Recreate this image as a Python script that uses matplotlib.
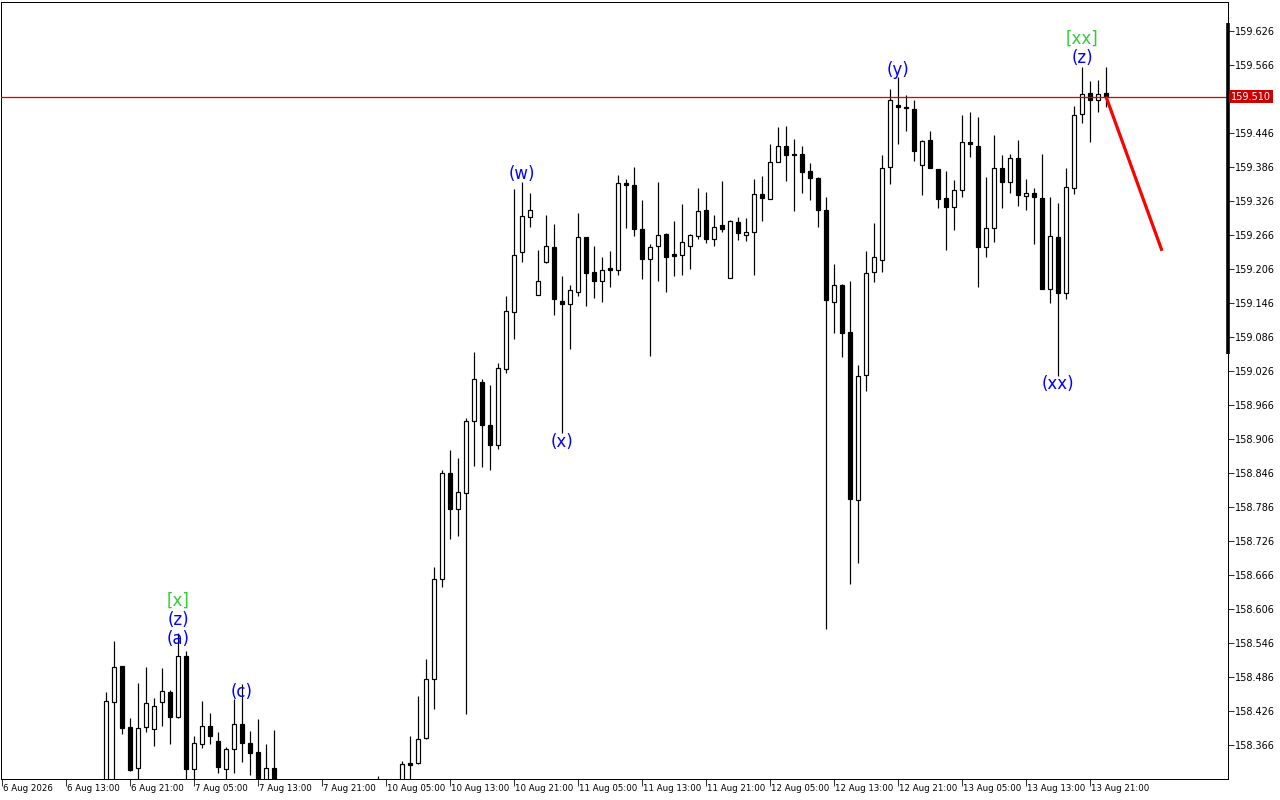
import matplotlib
matplotlib.use("Agg")
import matplotlib.pyplot as plt
import matplotlib.transforms as mtransforms
from matplotlib.patches import Rectangle

# ---------------- data (H1 bars, index 0 = 6 Aug 2026 05:00) ----------------
opens = [158.215, 158.230, 158.215, 158.195, 158.210, 158.240, 158.255, 158.230, 158.250, 158.270,
         158.255, 158.275, 158.265, 158.280, 158.442, 158.505, 158.398, 158.325, 158.398, 158.394,
         158.442, 158.460, 158.415, 158.523, 158.324, 158.368, 158.400, 158.373, 158.324, 158.359,
         158.403, 158.370, 158.354, 158.290, 158.325, 158.285, 158.265, 158.245, 158.260, 158.250,
         158.230, 158.255, 158.270, 158.260, 158.240, 158.255, 158.275, 158.265, 158.280, 158.270,
         158.290, 158.334, 158.334, 158.379, 158.482, 158.659, 158.846, 158.782, 158.811, 158.938,
         159.007, 158.931, 158.895, 159.030, 159.130, 159.235, 159.298, 159.160, 159.218, 159.245,
         159.149, 159.144, 159.166, 159.262, 159.201, 159.185, 159.208, 159.204, 159.358, 159.354,
         159.276, 159.224, 159.247, 159.268, 159.233, 159.231, 159.247, 159.264, 159.310, 159.259,
         159.284, 159.190, 159.289, 159.266, 159.271, 159.338, 159.330, 159.395, 159.423, 159.409,
         159.409, 159.379, 159.367, 159.310, 159.148, 159.178, 159.095, 158.798, 159.019, 159.201,
         159.222, 159.386, 159.495, 159.492, 159.488, 159.390, 159.434, 159.382, 159.331, 159.316,
         159.345, 159.430, 159.423, 159.245, 159.278, 159.384, 159.360, 159.402, 159.335, 159.340,
         159.331, 159.171, 159.262, 159.164, 159.349, 159.480, 159.517, 159.504, 159.517]
highs = [158.245, 158.260, 158.240, 158.225, 158.250, 158.275, 158.270, 158.265, 158.290, 158.295,
         158.285, 158.298, 158.295, 158.460, 158.550, 158.506, 158.414, 158.475, 158.504, 158.449,
         158.502, 158.463, 158.564, 158.532, 158.382, 158.444, 158.423, 158.389, 158.363, 158.447,
         158.474, 158.391, 158.412, 158.368, 158.392, 158.300, 158.290, 158.280, 158.295, 158.270,
         158.265, 158.285, 158.295, 158.280, 158.270, 158.290, 158.298, 158.311, 158.300, 158.298,
         158.338, 158.382, 158.453, 158.518, 158.680, 158.851, 158.887, 158.873, 158.943, 159.060,
         159.012, 159.001, 159.040, 159.158, 159.347, 159.359, 159.340, 159.240, 159.301, 159.285,
         159.194, 159.178, 159.305, 159.263, 159.247, 159.227, 159.238, 159.372, 159.365, 159.386,
         159.328, 159.250, 159.360, 159.269, 159.291, 159.321, 159.267, 159.349, 159.342, 159.301,
         159.361, 159.292, 159.298, 159.296, 159.365, 159.370, 159.427, 159.456, 159.458, 159.435,
         159.423, 159.393, 159.368, 159.333, 159.215, 159.179, 159.185, 159.036, 159.238, 159.287,
         159.407, 159.524, 159.545, 159.513, 159.504, 159.434, 159.450, 159.383, 159.379, 159.363,
         159.478, 159.483, 159.474, 159.368, 159.442, 159.407, 159.409, 159.434, 159.365, 159.349,
         159.409, 159.333, 159.323, 159.384, 159.494, 159.563, 159.538, 159.540, 159.563]
lows = [158.190, 158.205, 158.180, 158.170, 158.200, 158.225, 158.220, 158.215, 158.240, 158.245,
        158.235, 158.255, 158.250, 158.260, 158.295, 158.385, 158.320, 158.300, 158.389, 158.364,
        158.400, 158.368, 158.414, 158.300, 158.300, 158.361, 158.368, 158.317, 158.300, 158.317,
        158.336, 158.313, 158.270, 158.280, 158.270, 158.250, 158.235, 158.225, 158.240, 158.215,
        158.210, 158.240, 158.250, 158.230, 158.220, 158.245, 158.255, 158.250, 158.260, 158.255,
        158.280, 158.290, 158.333, 158.377, 158.430, 158.645, 158.730, 158.735, 158.421, 158.858,
        158.857, 158.851, 158.888, 159.022, 159.082, 159.218, 159.280, 159.160, 159.217, 159.125,
        158.917, 159.065, 159.158, 159.140, 159.155, 159.148, 159.174, 159.195, 159.278, 159.264,
        159.188, 159.052, 159.185, 159.166, 159.194, 159.195, 159.206, 159.259, 159.252, 159.247,
        159.271, 159.190, 159.257, 159.255, 159.195, 159.291, 159.330, 159.395, 159.361, 159.308,
        159.340, 159.328, 159.280, 158.571, 159.093, 159.051, 158.650, 158.687, 158.991, 159.183,
        159.201, 159.356, 159.427, 159.450, 159.397, 159.337, 159.384, 159.314, 159.240, 159.275,
        159.333, 159.404, 159.174, 159.227, 159.254, 159.314, 159.340, 159.317, 159.310, 159.250,
        159.171, 159.146, 159.017, 159.153, 159.338, 159.464, 159.430, 159.483, 159.492]
closes = [158.230, 158.215, 158.195, 158.210, 158.240, 158.255, 158.230, 158.250, 158.270, 158.255,
          158.275, 158.265, 158.280, 158.444, 158.504, 158.396, 158.322, 158.396, 158.440, 158.435,
          158.461, 158.415, 158.523, 158.324, 158.370, 158.400, 158.382, 158.327, 158.359, 158.403,
          158.370, 158.352, 158.290, 158.325, 158.285, 158.265, 158.245, 158.260, 158.250, 158.230,
          158.255, 158.270, 158.260, 158.240, 158.255, 158.275, 158.265, 158.280, 158.270, 158.290,
          158.332, 158.331, 158.377, 158.483, 158.659, 158.846, 158.782, 158.812, 158.938, 159.012,
          158.931, 158.895, 159.031, 159.132, 159.231, 159.300, 159.310, 159.185, 159.247, 159.153,
          159.144, 159.169, 159.262, 159.199, 159.185, 159.204, 159.204, 159.358, 159.354, 159.276,
          159.224, 159.245, 159.266, 159.227, 159.229, 159.254, 159.266, 159.309, 159.259, 159.280,
          159.276, 159.291, 159.270, 159.271, 159.338, 159.331, 159.395, 159.423, 159.407, 159.407,
          159.377, 159.367, 159.310, 159.151, 159.178, 159.093, 158.800, 159.017, 159.199, 159.227,
          159.384, 159.504, 159.492, 159.490, 159.414, 159.432, 159.384, 159.330, 159.316, 159.345,
          159.430, 159.427, 159.245, 159.278, 159.384, 159.360, 159.402, 159.337, 159.340, 159.333,
          159.171, 159.264, 159.164, 159.351, 159.478, 159.515, 159.504, 159.515, 159.510]

time_labels = ["6 Aug 2026", "6 Aug 13:00", "6 Aug 21:00", "7 Aug 05:00", "7 Aug 13:00",
               "7 Aug 21:00", "10 Aug 05:00", "10 Aug 13:00", "10 Aug 21:00", "11 Aug 05:00",
               "11 Aug 13:00", "11 Aug 21:00", "12 Aug 05:00", "12 Aug 13:00", "12 Aug 21:00",
               "13 Aug 05:00", "13 Aug 13:00", "13 Aug 21:00"]
time_label_bars = [0, 8, 16, 24, 32, 40, 48, 56, 64, 72, 80, 88, 96, 104, 112, 120, 128, 136]

price_ticks = [159.626, 159.566, 159.446, 159.386, 159.326, 159.266, 159.206, 159.146, 159.086,
               159.026, 158.966, 158.906, 158.846, 158.786, 158.726, 158.666, 158.606, 158.546,
               158.486, 158.426, 158.366]
current_price = 159.510

# wave labels: (text, bar, price, colour)
wave_labels = [("[x]", 22, 158.620, "green"), ("(z)", 22, 158.586, "blue"), ("(a)", 22, 158.553, "blue"),
               ("(c)", 30, 158.460, "blue"), ("(w)", 65, 159.374, "blue"), ("(x)", 70, 158.901, "blue"),
               ("(y)", 112, 159.557, "blue"), ("(xx)", 132, 159.003, "blue"),
               ("[xx]", 135, 159.612, "green"), ("(z)", 135, 159.578, "blue")]
forecast_bars = [138, 145]
forecast_prices = [159.510, 159.238]
scroll_bar_prices = [159.056, 159.640]

# ---------------- figure ----------------
W, H = 1280, 800
fig = plt.figure(figsize=(W / 100, H / 100), dpi=100)
ax = fig.add_axes([1 / W, 21 / H, 1227 / W, 777 / H])
ax.set_xlim(-0.125, 153.25)
ax.set_ylim(158.306, 159.677)
px = 72 / 100.0  # one pixel in points

label_colors = {"blue": "#0000ff", "green": "#32cd32"}

bw = 0.6
for i in range(len(opens)):
    o, h, l, c = opens[i], highs[i], lows[i], closes[i]
    ax.vlines(i, l, h, color="black", lw=1.2 * px, zorder=2)
    bottom = min(o, c)
    height = max(abs(c - o), 0.0012)
    face = "white" if c > o else "black"
    ax.add_patch(Rectangle((i - bw / 2, bottom), bw, height, facecolor=face,
                           edgecolor="black", lw=1.2 * px, zorder=3))

ax.axhline(current_price, color="#e00000", lw=1.3 * px, zorder=4)
ax.plot(forecast_bars, forecast_prices, color="#ff0000", lw=3.2 * px, zorder=5,
        solid_capstyle="butt")

for txt, b, p, col in wave_labels:
    ax.text(b, p, txt, color=label_colors[col], fontsize=12, ha="center", va="center",
            family="DejaVu Sans", zorder=6)

for s in ax.spines.values():
    s.set_color("black")
    s.set_linewidth(1.0 * px)

ax.yaxis.tick_right()
ax.set_yticks(price_ticks)
ax.set_yticklabels([f"{v:.3f}" for v in price_ticks])
ax.tick_params(axis="y", direction="out", length=4, width=0.8 * px, pad=1, labelsize=7,
               colors="black")
ax.set_xticks(time_label_bars)
ax.set_xticklabels([])
ax.tick_params(axis="x", direction="out", length=5, width=0.8 * px, labelsize=7)

for b, lab in zip(time_label_bars, time_labels):
    ax.annotate(lab, xy=(b, 0), xycoords=("data", "axes fraction"), xytext=(0.8, -3.5),
                textcoords="offset points", ha="left", va="top", fontsize=6.2,
                annotation_clip=False)

blend = mtransforms.blended_transform_factory(ax.transAxes, ax.transData)
ax.plot([1, 1], scroll_bar_prices, transform=blend, color="black", lw=3.6 * px,
        clip_on=False, zorder=7, solid_capstyle="butt")
ax.text(1.0025, current_price, f"{current_price:.3f}", transform=blend, color="white",
        fontsize=7, ha="left", va="center", zorder=8,
        bbox=dict(facecolor="#cc0000", edgecolor="none", pad=1.2))

fig.savefig("out.png", dpi=100, facecolor="white")
